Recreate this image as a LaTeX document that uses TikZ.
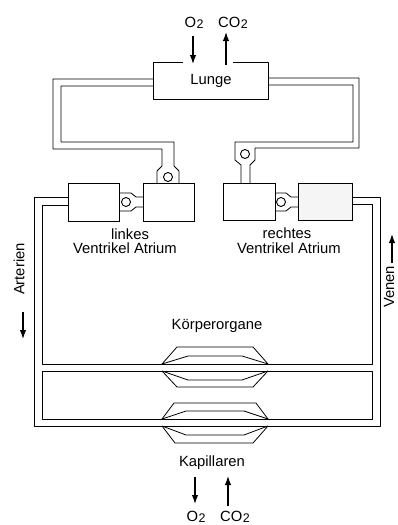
\documentclass[tikz,border=0pt]{standalone}
\usepackage{fontspec}
\setmainfont{Liberation Sans}
\usetikzlibrary{arrows.meta}
\begin{document}
\begin{tikzpicture}[x=1pt,y=-1pt,
  line/.style={line width=0.8pt, line join=round},
  box/.style={draw, line width=0.9pt, inner sep=0pt},
  lbl/.style={inner sep=0pt, font=\fontsize{14.8}{16}\selectfont},
  flow/.style={line width=1.2pt, -{Latex[length=9pt,width=6.5pt]}},
  valve/.style={draw, line width=0.9pt, circle, inner sep=0pt, minimum size=9pt}]
\useasboundingbox (0,0) rectangle (397,525);
\newcommand{\otwo}{O\kern0.5pt\raisebox{-0.5pt}{\fontsize{12.5}{12}\selectfont 2}}
\newcommand{\cotwo}{CO\kern0.5pt\raisebox{-0.5pt}{\fontsize{12.5}{12}\selectfont 2}}

% Lung
\draw[line] (183,62) -- (153,62) -- (153,99) -- (268,99) -- (268,62) -- (233,62);
\node[lbl] (lunge) at (211,81) {Lunge};
\node[lbl] (o2top) at (194,23) {\otwo};
\node[lbl] (co2top) at (233,23) {\cotwo};
\coordinate (o2a) at (193,36); \coordinate (o2b) at (193,64);
\coordinate (co2a) at (226,65); \coordinate (co2b) at (226,32);
\draw[flow] (o2a) -- (o2b);
\draw[flow] (co2a) -- (co2b);

% heart boxes
\node[box, minimum width=51pt, minimum height=38pt] (lv) at (93.5,202) {};
\node[box, minimum width=51pt, minimum height=38pt] (la) at (168.5,202) {};
\node[box, minimum width=52pt, minimum height=37pt] (rv) at (249,201.5) {};
\node[box, fill=gray!8, minimum width=54pt, minimum height=37pt] (ra) at (325,201.5) {};

% pulmonary vein (lung -> left atrium)
\draw[line] (153,79) -- (53,79) -- (53,149) -- (162,149) -- (162,166) -- (157,171) -- (157,183);
\draw[line] (153,86) -- (61,86) -- (61,142) -- (174,142) -- (174,166) -- (179,171) -- (179,183);
\node[valve] (v1) at (168,177) {};

% pulmonary artery (right ventricle -> lung)
\draw[line] (268,78) -- (359,78) -- (359,148) -- (255,148) -- (255,160) -- (250,165) -- (250,183);
\draw[line] (268,85) -- (353,85) -- (353,142) -- (235,142) -- (235,160) -- (241,165) -- (241,183);
\node[valve] (v2) at (245,154) {};

% valves atrium -> ventricle
\draw[line] (119,193) -- (131,193) -- (136,197) -- (143,197);
\draw[line] (119,211) -- (131,211) -- (136,207) -- (143,207);
\node[valve] (v3) at (126,202) {};
\draw[line] (275,193) -- (286,193) -- (291,197) -- (298,197);
\draw[line] (275,211) -- (286,211) -- (291,207) -- (298,207);
\node[valve] (v4) at (281,202) {};

% arteries (left side)
\draw[line] (68,197) -- (34,197) -- (34,426) -- (162,426);
\draw[line] (68,205) -- (42,205) -- (42,364) -- (162,364);
\draw[line] (162,371) -- (42,371) -- (42,419) -- (162,419);

% veins (right side)
\draw[line] (352,197) -- (380,197) -- (380,426) -- (268,426);
\draw[line] (352,204) -- (372,204) -- (372,364) -- (268,364);
\draw[line] (268,371) -- (372,371) -- (372,419) -- (268,419);

% capillaries upper
\draw[line] (162,364) -- (177,347) -- (253,347) -- (268,364);
\draw[line] (162,364) -- (188,356) -- (242,356) -- (268,364);
\draw[line] (162,364) -- (268,364);
\draw[line] (162,371) -- (268,371);
\draw[line] (162,371) -- (188,380) -- (242,380) -- (268,371);
\draw[line] (162,371) -- (177,387) -- (253,387) -- (268,371);

% capillaries lower
\draw[line] (162,419) -- (174,403) -- (256,403) -- (268,419);
\draw[line] (162,419) -- (186,411) -- (244,411) -- (268,419);
\draw[line] (162,419) -- (268,419);
\draw[line] (162,426) -- (268,426);
\draw[line] (162,426) -- (186,435) -- (244,435) -- (268,426);
\draw[line] (162,426) -- (175,443) -- (253,443) -- (268,426);

% labels
\node[lbl] (linkes) at (130,234) {linkes};
\node[lbl] (lva) at (125,248) {Ventrikel Atrium};
\node[lbl] (rechtes) at (287,233) {rechtes};
\node[lbl] (rva) at (289,248) {Ventrikel Atrium};
\node[lbl] (koerper) at (217,326) {Körperorgane};
\node[lbl] (kap) at (212,463) {Kapillaren};
\node[lbl, rotate=90] (art) at (19,269) {Arterien};
\node[lbl, rotate=90] (ven) at (389,287) {Venen};
\coordinate (arta) at (23,312); \coordinate (artb) at (23,339);
\draw[flow] (arta) -- (artb);
\coordinate (vena) at (392,263); \coordinate (venb) at (392,234);
\draw[flow] (vena) -- (venb);

% bottom gas exchange
\coordinate (o2c) at (195,477); \coordinate (o2d) at (195,504);
\coordinate (co2c) at (228,506); \coordinate (co2d) at (228,476);
\draw[flow] (o2c) -- (o2d);
\draw[flow] (co2c) -- (co2d);
\node[lbl] (o2bot) at (196,517) {\otwo};
\node[lbl] (co2bot) at (235,517) {\cotwo};
\end{tikzpicture}
\end{document}
